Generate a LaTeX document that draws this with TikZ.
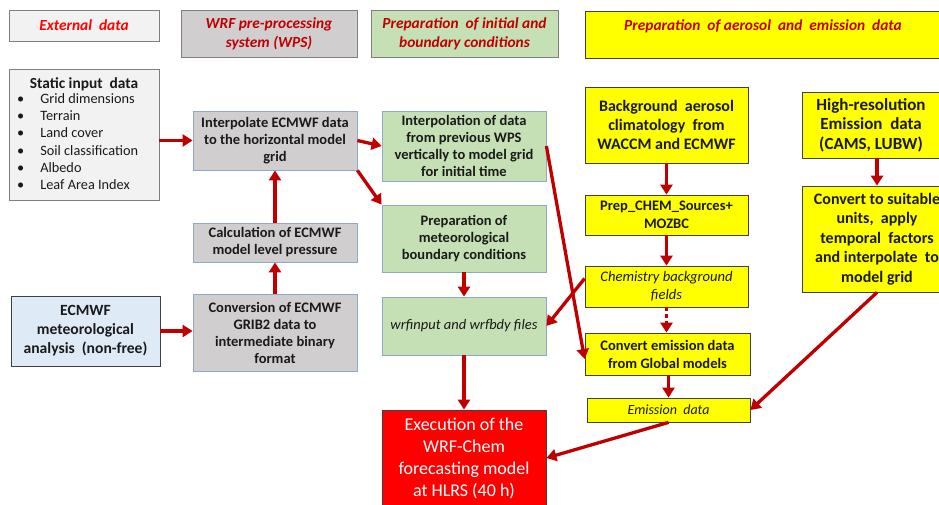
\documentclass[tikz,border=0pt]{standalone}
\usepackage{fontspec}
\setmainfont{Carlito}
\usetikzlibrary{arrows.meta}
\definecolor{arrowred}{HTML}{C00000}
\definecolor{darkred}{HTML}{C00000}
\definecolor{lgray}{HTML}{F2F2F2}
\definecolor{mgray}{HTML}{D0CECE}
\definecolor{lgreen}{HTML}{C5E0B4}
\definecolor{lblue}{HTML}{DEEBF7}
\definecolor{yel}{HTML}{FFFF00}
\definecolor{bred}{HTML}{FF0000}
\definecolor{txt}{HTML}{1A1A1A}
\definecolor{hdrborder}{HTML}{7F7F7F}
\definecolor{blueborder}{HTML}{8FAAC8}
\definecolor{darkborder}{HTML}{404040}
\begin{document}
\begin{tikzpicture}[x=1pt,y=-1pt,
  hdr/.style={draw=hdrborder, line width=1pt, align=center, text=darkred, inner sep=0pt,
    font=\bfseries\itshape\fontsize{15.4}{19}\selectfont},
  box/.style={draw=blueborder, line width=0.8pt, align=center, inner sep=0pt, text=txt,
    font=\bfseries\fontsize{14.5}{17}\selectfont},
  graybox/.style={box, fill=mgray},
  greenbox/.style={box, fill=lgreen},
  yelbox/.style={box, fill=yel, draw=darkborder, font=\bfseries\fontsize{16}{19}\selectfont},
  arr/.style={draw=arrowred, line width=3.3pt, -{Triangle[length=10pt,width=12pt]}},
]
\useasboundingbox (0,0) rectangle (939,504);

% headers
\node[hdr, fill=lgray, text=bred, minimum width=150pt, minimum height=31pt] (hext) at (84,25.5) {External\ \ data};
\node[hdr, fill=mgray, minimum width=176pt, minimum height=47pt] (hwps) at (269,33.5) {WRF pre-processing\\system (WPS)};
\node[hdr, fill=lgreen, minimum width=187pt, minimum height=47pt] (hibc) at (464.5,33.5) {Preparation\ \ of initial and\\boundary conditions};
\node[hdr, fill=yel, draw=darkborder, minimum width=356pt, minimum height=47pt] (haer) at (763,34.5) {Preparation\ \ of aerosol\ \ and\ \ emission\ \ data\\~};

% static input
\node[box, draw=hdrborder, fill=lgray, minimum width=150pt, minimum height=131pt] (static) at (84,134.5) {};
\node[text=txt, font=\bfseries\fontsize{15.4}{17}\selectfont, inner sep=0pt] (stitle) at (84,84) {Static input\ \ data};
\node[text=txt, font=\fontsize{14.3}{17.3}\selectfont, align=left, anchor=north west, inner sep=0pt] (slist) at (17,93)
  {\textbullet\hspace{16pt}Grid dimensions\\
   \textbullet\hspace{16pt}Terrain\\
   \textbullet\hspace{16pt}Land cover\\
   \textbullet\hspace{16pt}Soil classification\\
   \textbullet\hspace{16pt}Albedo\\
   \textbullet\hspace{16pt}Leaf Area Index};

% ECMWF analysis
\node[box, draw=darkborder, fill=lblue, minimum width=149pt, minimum height=70pt, font=\bfseries\fontsize{15.6}{19}\selectfont] (ecmwf) at (85.5,331) {ECMWF\\meteorological\\analysis\ \ (non-free)};

% WPS column
\node[graybox, minimum width=164pt, minimum height=59pt] (interp) at (275,140.5) {Interpolate ECMWF data\\to the horizontal model\\grid};
\node[graybox, minimum width=164pt, minimum height=39pt] (calc) at (275,242.5) {Calculation of ECMWF\\model level pressure};
\node[graybox, minimum width=164pt, minimum height=77pt] (conv) at (275,332.5) {Conversion of ECMWF\\GRIB2 data to\\intermediate binary\\format};

% green column
\node[greenbox, minimum width=164pt, minimum height=70pt] (vint) at (464,146) {Interpolation of data\\from previous WPS\\vertically to model grid\\for initial time};
\node[greenbox, minimum width=164pt, minimum height=67pt] (pmet) at (464,238.5) {Preparation of\\meteorological\\boundary conditions};
\node[greenbox, minimum width=164pt, minimum height=58pt, font=\itshape\fontsize{14.5}{17}\selectfont] (wrf) at (464,326) {wrfinput and wrfbdy files};
\node[box, draw=darkborder, fill=bred, text=white, minimum width=164pt, minimum height=96pt, font=\fontsize{18}{22}\selectfont] (exec) at (464,458) {Execution of the\\WRF-Chem\\forecasting model\\at HLRS (40 h)};

% yellow column
\node[yelbox, minimum width=163pt, minimum height=76pt] (bgaer) at (666.5,125) {Background\ \ aerosol\\climatology\ \ from\\WACCM and ECMWF};
\node[yelbox, minimum width=163pt, minimum height=40pt, font=\bfseries\fontsize{14.5}{18}\selectfont] (prep) at (666.5,215) {Prep\_CHEM\_Sources+\\MOZBC};
\node[yelbox, minimum width=163pt, minimum height=41pt, font=\itshape\fontsize{14.6}{18}\selectfont] (chem) at (666.5,286.5) {Chemistry background\\fields};
\node[yelbox, minimum width=165pt, minimum height=42pt, font=\bfseries\fontsize{14.5}{18}\selectfont] (convem) at (667.5,354) {Convert emission data\\from Global models};
\node[yelbox, minimum width=163pt, minimum height=24pt, font=\itshape\fontsize{14}{18}\selectfont] (emis) at (668.5,410) {Emission\ \ data};

\node[yelbox, minimum width=138pt, minimum height=66pt, font=\bfseries\fontsize{17}{19.5}\selectfont] (hires) at (871,125) {High-resolution\\Emission\ \ data\\(CAMS,\ LUBW)};
\node[yelbox, minimum width=150pt, minimum height=106pt, font=\bfseries\fontsize{16}{19.5}\selectfont] (cvsuit) at (877,239) {Convert to suitable\\units,\ \ apply\\temporal\ \ factors\\and interpolate\ \ to\\model grid};

% arrows
\draw[arr] (static.east |- interp.west) -- (interp.west);
\draw[arr] (ecmwf.east) -- (ecmwf.east -| conv.west);
\draw[arr] (conv.north) -- (calc.south);
\draw[arr] (calc.north) -- (interp.south);
\draw[arr] (interp.east) -- (vint.west);
\draw[arr] (interp.south east) -- (pmet.north west);
\draw[arr] (pmet.south) -- (wrf.north);
\draw[arr] (wrf.south) -- (exec.north);
\draw[arr] (vint.east) -- ([yshift=-5pt]convem.west);
\draw[arr] ([yshift=8pt]chem.west) -- (wrf.east);
\draw[arr] (bgaer.south) -- (prep.north);
\draw[arr] (prep.south) -- (chem.north);
\draw[arr, dash pattern=on 4pt off 3pt] (chem.south) -- (chem.south |- convem.north);
\draw[arr] (convem.south -| emis.north) -- (emis.north);
\draw[arr] ([xshift=6pt]hires.south) -- ([xshift=6pt]hires.south |- cvsuit.north);
\draw[arr] (cvsuit.south) -- (emis.east);
\draw[arr] (emis.south) -- (exec.east);
\end{tikzpicture}
\end{document}
